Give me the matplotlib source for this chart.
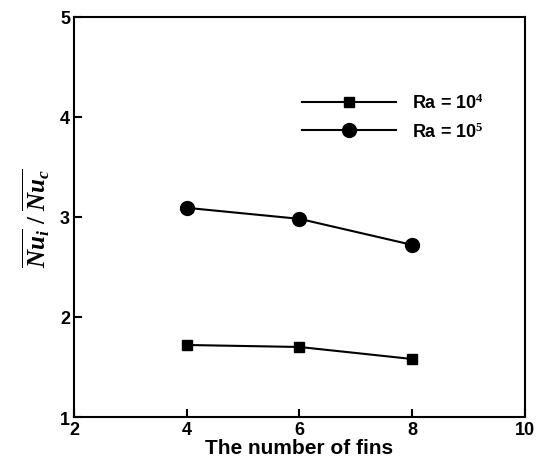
import matplotlib
matplotlib.use("Agg")
import matplotlib.pyplot as plt

# number of fins
fins = [4, 6, 8]
# average Nusselt ratio
nu_ra4 = [1.72, 1.70, 1.58]
nu_ra5 = [3.09, 2.98, 2.72]
labels = [r"Ra = 10$^4$", r"Ra = 10$^5$"]

plt.rcParams["font.family"] = "Liberation Sans"
plt.rcParams["font.weight"] = "bold"
plt.rcParams["mathtext.fontset"] = "custom"
plt.rcParams["mathtext.it"] = "Liberation Serif:italic:bold"
plt.rcParams["mathtext.rm"] = "Liberation Serif:bold"
plt.rcParams["mathtext.bf"] = "Liberation Serif:italic:bold"

fig = plt.figure(figsize=(5.45, 4.64), dpi=100)
ax = fig.add_axes([0.136, 0.099, 0.827, 0.863])

ax.plot(fins, nu_ra4, color="black", lw=1.5, marker="s", ms=7, label=labels[0])
ax.plot(fins, nu_ra5, color="black", lw=1.5, marker="o", ms=10, label=labels[1])

ax.set_xlim(2, 10)
ax.set_ylim(1, 5)
ax.set_xticks([2, 4, 6, 8, 10])
ax.set_yticks([1, 2, 3, 4, 5])
ax.tick_params(direction="in", length=6, width=1.5, labelsize=13, pad=3,
               top=False, right=False)
for s in ax.spines.values():
    s.set_linewidth(1.5)

ax.set_xlabel("The number of fins", fontsize=15, fontweight="bold", labelpad=0)
ax.set_ylabel(r"$\overline{Nu_i}\ \mathrm{/}\ \overline{Nu_c}$", fontsize=18, labelpad=6)

ax.legend(loc="upper left", bbox_to_anchor=(0.47, 0.85), frameon=False,
          handlelength=5.2, fontsize=13, labelspacing=0.5, handletextpad=0.9)

fig.savefig("out.png", dpi=100)
